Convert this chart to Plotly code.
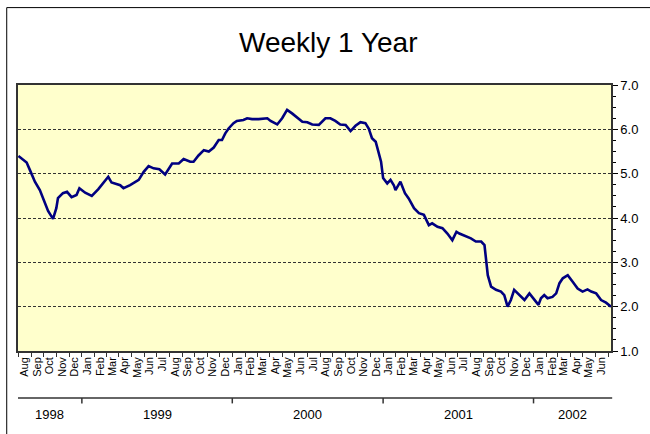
import plotly.graph_objects as go
import pandas as pd

# ---- data ----
dates = [
    "1998-07-31", "1998-08-07", "1998-08-20", "1998-08-28", "1998-09-09", "1998-09-21",
    "1998-10-03", "1998-10-11", "1998-10-23", "1998-10-31", "1998-11-04", "1998-11-16",
    "1998-11-26", "1998-12-07", "1998-12-19", "1998-12-26", "1999-01-09", "1999-01-25",
    "1999-02-10", "1999-02-22", "1999-03-06", "1999-03-14", "1999-04-04", "1999-04-12",
    "1999-04-28", "1999-05-19", "1999-05-31", "1999-06-12", "1999-06-24", "1999-07-08",
    "1999-07-22", "1999-08-08", "1999-08-24", "1999-09-05", "1999-09-21", "1999-09-29",
    "1999-10-11", "1999-10-24", "1999-11-05", "1999-11-17", "1999-11-29", "1999-12-07",
    "1999-12-15", "1999-12-23", "2000-01-04", "2000-01-12", "2000-01-28", "2000-02-06",
    "2000-02-18", "2000-03-05", "2000-03-26", "2000-04-03", "2000-04-19", "2000-05-01",
    "2000-05-13", "2000-05-25", "2000-06-06", "2000-06-19", "2000-07-01", "2000-07-13",
    "2000-07-29", "2000-08-14", "2000-08-26", "2000-09-07", "2000-09-19", "2000-10-02",
    "2000-10-14", "2000-10-26", "2000-11-07", "2000-11-19", "2000-11-27", "2000-12-05",
    "2000-12-14", "2000-12-22", "2000-12-27", "2001-01-01", "2001-01-11", "2001-01-19",
    "2001-01-27", "2001-01-31", "2001-02-12", "2001-02-23", "2001-03-04", "2001-03-17",
    "2001-03-29", "2001-04-10", "2001-04-22", "2001-04-30", "2001-05-13", "2001-05-25",
    "2001-06-06", "2001-06-18", "2001-06-28", "2001-07-05", "2001-07-21", "2001-08-02",
    "2001-08-14", "2001-08-27", "2001-09-04", "2001-09-08", "2001-09-12", "2001-09-20",
    "2001-10-02", "2001-10-14", "2001-10-22", "2001-10-30", "2001-11-07", "2001-11-15",
    "2001-11-27", "2001-12-10", "2001-12-22", "2002-01-03", "2002-01-13", "2002-01-19",
    "2002-01-27", "2002-02-04", "2002-02-16", "2002-02-25", "2002-03-05", "2002-03-13",
    "2002-03-25", "2002-04-06", "2002-04-18", "2002-04-30", "2002-05-12", "2002-05-21",
    "2002-06-02", "2002-06-14", "2002-06-26", "2002-07-08",
]
yields = [
    5.40, 5.35, 5.25, 5.08, 4.82, 4.63,
    4.34, 4.16, 3.98, 4.22, 4.45, 4.56,
    4.59, 4.47, 4.52, 4.67, 4.57, 4.50,
    4.65, 4.78, 4.93, 4.80, 4.74, 4.67,
    4.74, 4.86, 5.04, 5.17, 5.12, 5.10,
    4.98, 5.23, 5.23, 5.33, 5.27, 5.27,
    5.41, 5.53, 5.50, 5.59, 5.76, 5.76,
    5.91, 6.02, 6.14, 6.19, 6.21, 6.25,
    6.23, 6.23, 6.25, 6.19, 6.11, 6.25,
    6.44, 6.36, 6.26, 6.17, 6.16, 6.11,
    6.10, 6.25, 6.25, 6.19, 6.11, 6.10,
    5.96, 6.08, 6.16, 6.14, 6.02, 5.80,
    5.72, 5.46, 5.27, 4.90, 4.78, 4.86,
    4.74, 4.63, 4.82, 4.56, 4.44, 4.22,
    4.11, 4.07, 3.84, 3.88, 3.80, 3.77,
    3.65, 3.50, 3.69, 3.65, 3.59, 3.54,
    3.47, 3.47, 3.39, 2.98, 2.71, 2.45,
    2.38, 2.34, 2.26, 2.00, 2.15, 2.38,
    2.26, 2.15, 2.30, 2.15, 2.04, 2.19,
    2.26, 2.19, 2.22, 2.30, 2.53, 2.64,
    2.71, 2.56, 2.41, 2.34, 2.39, 2.34,
    2.30, 2.15, 2.09, 2.00,
]

x_start = "1998-07-30"
x_end = "2002-07-08"
month_starts = pd.date_range("1998-08-01", "2002-06-01", freq="MS")
month_ticks = [d + pd.Timedelta(days=14) for d in month_starts]
month_labels = [d.strftime("%b") for d in month_starts]
years = ["1998", "1999", "2000", "2001", "2002"]
year_bounds = ["1999-01-01", "2000-01-01", "2001-01-01", "2002-01-01"]

FONT = "Arial, Liberation Sans, sans-serif"

fig = go.Figure()
fig.add_trace(go.Scatter(
    x=dates, y=yields, mode="lines",
    line=dict(color="#000080", width=2.6),
    hoverinfo="x+y", showlegend=False,
))

# year label centres = middle of each visible year segment
edges = [pd.Timestamp(x_start)] + [pd.Timestamp(b) for b in year_bounds] + [pd.Timestamp(x_end)]
year_centres = [edges[i] + (edges[i + 1] - edges[i]) / 2 for i in range(len(years))]

SEP_Y = -0.177   # year separator line below the month labels
annotations = []
for yr, c in zip(years, year_centres):
    annotations.append(dict(
        x=c, y=-0.24, xref="x", yref="paper", text=yr, showarrow=False,
        font=dict(family=FONT, size=13, color="black"), yanchor="middle",
    ))

shapes = [
    # separator line
    dict(type="line", xref="paper", yref="paper", x0=0, x1=1.002, y0=SEP_Y, y1=SEP_Y,
         line=dict(color="#333333", width=1.5)),
    # outer chart border
    dict(type="rect", xref="paper", yref="paper", x0=-0.019, x1=1.2, y0=-0.6, y1=1.291,
         line=dict(color="black", width=1)),
]
for b in year_bounds:
    shapes.append(dict(type="line", xref="x", yref="paper", x0=b, x1=b,
                       y0=SEP_Y, y1=SEP_Y - 0.02, line=dict(color="#333333", width=1.5)))

fig.update_layout(
    width=650, height=434,
    margin=dict(l=18, r=39, t=85, b=83),
    paper_bgcolor="white",
    plot_bgcolor="#FFFFCC",
    font=dict(family=FONT, color="black"),
    title=dict(text="Weekly 1 Year", x=0.505, xref="container", xanchor="center",
               y=0.903, yref="container", yanchor="middle",
               font=dict(family=FONT, size=28, color="black")),
    annotations=annotations,
    shapes=shapes,
    xaxis=dict(
        type="date", range=[x_start, x_end],
        tickmode="array", tickvals=month_ticks, ticktext=month_labels,
        tickangle=-90, ticks="", ticklen=0,
        tickfont=dict(family=FONT, size=11, color="black"),
        showgrid=False, zeroline=False,
        showline=True, linecolor="#333333", linewidth=1.5, mirror=True,
        minor=dict(tick0="1998-08-01", dtick="M1", ticks="outside", ticklen=4,
                   tickcolor="#333333", showgrid=False),
    ),
    yaxis=dict(
        side="right", range=[1, 7], dtick=1, tick0=1, tickformat=".1f",
        ticks="outside", ticklen=5, tickcolor="black",
        tickfont=dict(family=FONT, size=13, color="black"),
        showgrid=True, gridcolor="#333333", gridwidth=1, griddash="3px,2px",
        zeroline=False,
        showline=True, linecolor="#333333", linewidth=1.5, mirror=True,
        minor=dict(dtick=0.25, ticks="outside", ticklen=3, tickcolor="black",
                   showgrid=False),
    ),
)

fig.write_html("out.html", config={"displayModeBar": False},
               post_script="document.body.style.margin='0px';document.body.style.overflow='hidden';")
